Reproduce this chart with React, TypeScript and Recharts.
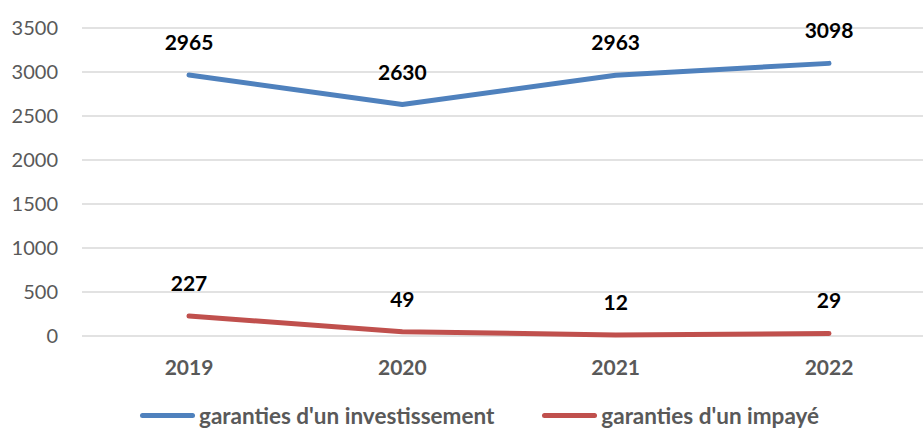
import { LineChart, Line, XAxis, YAxis, CartesianGrid, LabelList } from 'recharts';

// years on the x axis
const years = ['2019', '2020', '2021', '2022'];
// guarantees tied to an investment
const investissement = [2965, 2630, 2963, 3098];
// guarantees for unpaid amounts
const impaye = [227, 49, 12, 29];
const yTicks = [0, 500, 1000, 1500, 2000, 2500, 3000, 3500];

const series = [
  { key: 'investissement', name: "garanties d'un investissement", color: '#4F81BD' },
  { key: 'impaye', name: "garanties d'un impayé", color: '#C0504D' },
];

const data = years.map((year, i) => ({
  year,
  investissement: investissement[i],
  impaye: impaye[i],
}));

const font = 'Lato, "Open Sans", sans-serif';

const App = () => (
  <div
    style={{
      position: 'absolute',
      left: 0,
      top: 0,
      width: 923,
      height: 430,
      overflow: 'hidden',
      background: '#fff',
      fontFamily: font,
    }}
  >
    <LineChart
      width={936}
      height={430}
      data={data}
      margin={{ top: 28, right: 0, bottom: 64, left: 0 }}
    >
      <CartesianGrid vertical={false} stroke="#d9d9d9" strokeWidth={1.5} />
      <XAxis
        dataKey="year"
        height={30}
        padding={{ left: 107, right: 107 }}
        axisLine={false}
        tickLine={false}
        tickSize={6}
        tickMargin={18}
        tick={{ fill: '#595959', fontSize: 21, fontWeight: 700, fontFamily: font }}
      />
      <YAxis
        width={82}
        domain={[0, 3500]}
        ticks={yTicks}
        axisLine={false}
        tickLine={false}
        tickSize={6}
        tickMargin={18}
        tick={{ fill: '#595959', fontSize: 20, fontFamily: font }}
      />
      {series.map((s) => (
        <Line
          key={s.key}
          dataKey={s.key}
          name={s.name}
          stroke={s.color}
          strokeWidth={5}
          strokeLinecap="round"
          strokeLinejoin="round"
          dot={false}
          isAnimationActive={false}
        >
          <LabelList
            dataKey={s.key}
            position="top"
            offset={25}
            fill="#000"
            fontSize={21}
            fontWeight={700}
            fontFamily={font}
          />
        </Line>
      ))}
    </LineChart>
    <div
      style={{
        position: 'absolute',
        left: 140,
        top: 402,
        display: 'flex',
        alignItems: 'center',
        fontSize: 22.5,
        lineHeight: '27px',
        fontWeight: 700,
        color: '#595959',
      }}
    >
      {series.map((s, i) => (
        <div key={s.key} style={{ display: 'flex', alignItems: 'center', marginLeft: i ? 48 : 0 }}>
          <span
            style={{
              display: 'inline-block',
              width: 55,
              height: 5,
              borderRadius: 3,
              background: s.color,
              marginRight: 4,
            }}
          />
          <span style={{ whiteSpace: 'nowrap' }}>{s.name}</span>
        </div>
      ))}
    </div>
  </div>
);

export default App;
